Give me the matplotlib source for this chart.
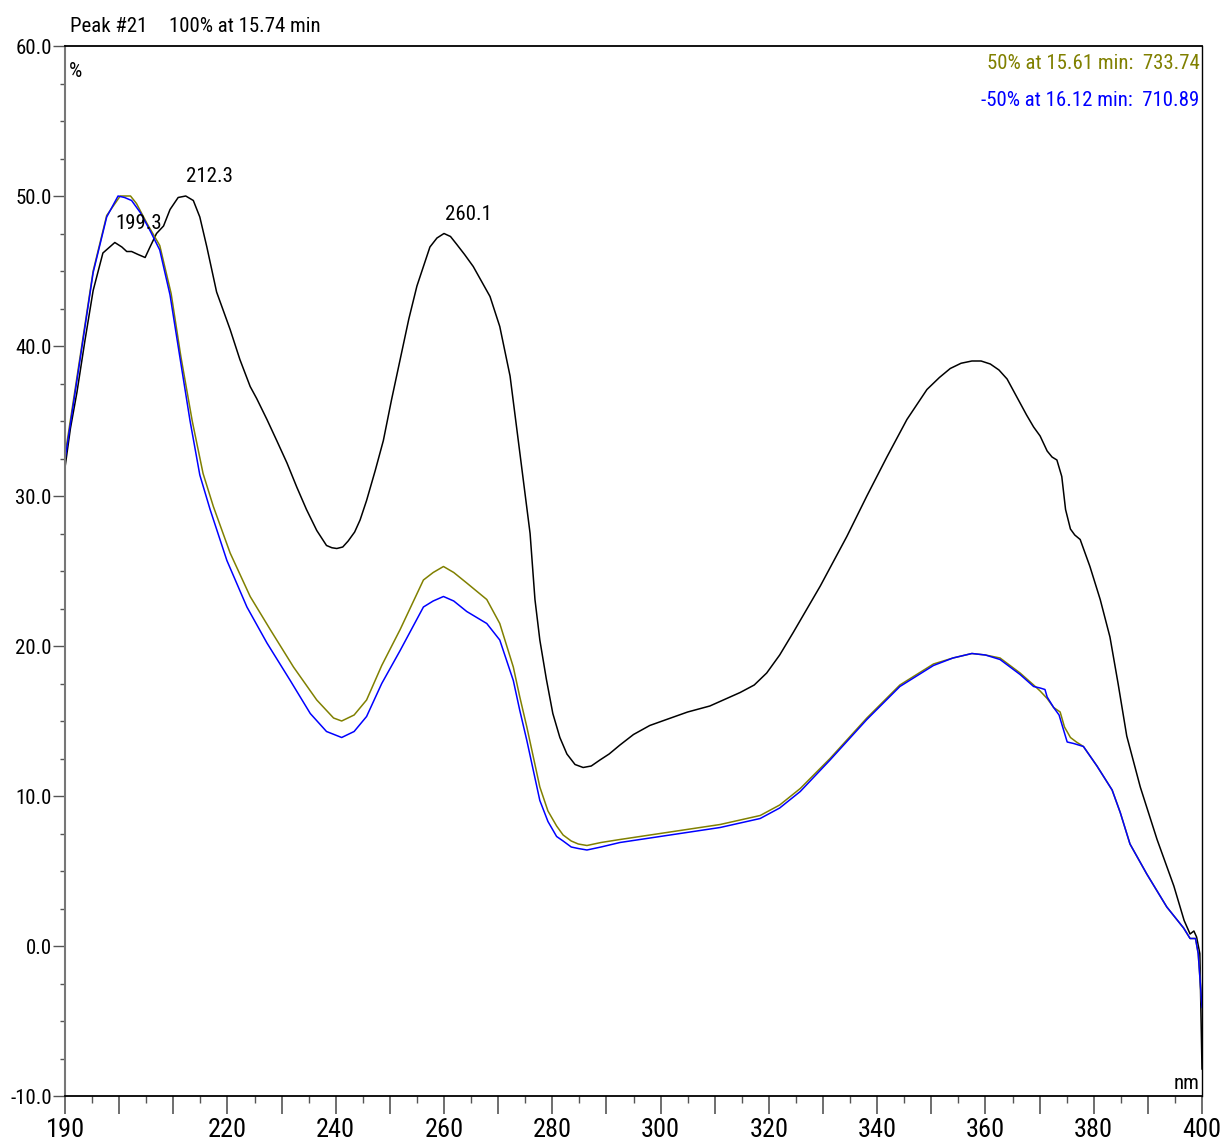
import matplotlib
matplotlib.use("Agg")
import matplotlib.pyplot as plt
import matplotlib.font_manager as fm
from matplotlib.ticker import FixedLocator, MultipleLocator, FuncFormatter

# pick a narrow font if one is installed, else a regular one a bit smaller
names = {f.name for f in fm.fontManager.ttflist}
narrow = None
for cand in ['Liberation Sans Narrow', 'Arial Narrow', 'Roboto Condensed',
             'Open Sans Condensed', 'DejaVu Sans Condensed']:
    if cand in names:
        narrow = cand
        break
cond_dejavu = any(f.name == 'DejaVu Sans' and f.stretch == 'condensed'
                  for f in fm.fontManager.ttflist)

if narrow:
    plt.rcParams['font.family'] = [narrow, 'DejaVu Sans']
    fs = 15
elif cond_dejavu:
    plt.rcParams['font.family'] = ['DejaVu Sans']
    plt.rcParams['font.stretch'] = 'condensed'
    fs = 14.5
else:
    plt.rcParams['font.family'] = ['Liberation Sans', 'DejaVu Sans']
    fs = 13
xfs = fs + 4

# 100% spectrum (black)
wl_100 = [190.0, 191.0, 192.2, 193.7, 195.2, 197.0, 199.2, 200.5, 201.4, 202.3,
          203.5, 204.8, 205.7, 206.9, 208.2, 209.4, 210.9, 212.3, 213.7, 214.9,
          216.2, 218.0, 220.5, 222.3, 224.2, 225.4, 227.3, 229.1, 231.0, 232.8,
          234.6, 236.5, 238.3, 239.3, 240.2, 241.3, 242.3, 243.5, 244.5, 245.7,
          247.3, 248.8, 250.3, 251.9, 253.5, 255.0, 257.4, 258.7, 260.0, 261.2,
          262.3, 263.8, 265.4, 268.5, 270.3, 272.2, 274.0, 275.9, 276.8, 277.7,
          278.9, 280.1, 281.4, 282.7, 284.2, 285.7, 287.2, 288.8, 290.5, 292.5,
          295.0, 298.0, 301.1, 305.0, 309.1, 314.7, 317.3, 319.6, 322.0, 324.5,
          329.5, 334.4, 338.1, 341.8, 345.5, 349.2, 351.5, 353.5, 355.5, 357.5,
          359.2, 360.9, 362.5, 364.0, 366.1, 367.6, 368.9, 370.1, 371.4, 372.3,
          373.2, 374.1, 374.8, 375.7, 376.5, 377.5, 379.3, 381.2, 383.0, 384.5,
          386.1, 388.6, 391.7, 394.8, 396.7, 397.8, 398.5, 399.0, 399.6, 400.0]
val_100 = [31.9, 34.5, 36.9, 40.4, 43.7, 46.2, 46.9, 46.6, 46.3, 46.3,
           46.1, 45.9, 46.6, 47.5, 48.0, 49.1, 49.9, 50.0, 49.7, 48.6,
           46.6, 43.6, 41.1, 39.1, 37.3, 36.5, 35.1, 33.7, 32.2, 30.6,
           29.1, 27.7, 26.7, 26.55, 26.5, 26.6, 27.0, 27.6, 28.4, 29.7,
           31.7, 33.7, 36.4, 39.1, 41.8, 44.0, 46.6, 47.2, 47.5, 47.3,
           46.8, 46.1, 45.3, 43.3, 41.3, 38.0, 32.9, 27.5, 23.1, 20.4,
           17.8, 15.5, 13.9, 12.8, 12.1, 11.9, 12.0, 12.4, 12.8, 13.4,
           14.1, 14.7, 15.1, 15.6, 16.0, 16.9, 17.4, 18.2, 19.4, 20.9,
           24.0, 27.3, 30.0, 32.6, 35.1, 37.1, 37.9, 38.5, 38.85, 39.0,
           39.0, 38.8, 38.4, 37.8, 36.4, 35.4, 34.6, 34.0, 33.0, 32.6,
           32.4, 31.3, 29.1, 27.8, 27.4, 27.1, 25.3, 23.1, 20.6, 17.5,
           14.0, 10.6, 7.1, 4.0, 1.7, 0.8, 1.0, 0.6, -0.5, -8.2]

# 50% spectrum (olive)
wl_50 = [190.0, 192.2, 195.2, 197.7, 200.2, 202.1, 203.2, 205.1, 207.5, 209.6,
         211.4, 213.5, 215.5, 217.4, 220.5, 224.2, 227.9, 232.2, 236.5, 239.6,
         241.1, 243.4, 245.7, 248.5, 251.9, 256.2, 258.0, 259.9, 261.8, 264.2,
         267.9, 270.3, 272.8, 274.0, 275.3, 277.7, 279.2, 280.8, 282.0, 283.5,
         284.8, 286.4, 289.0, 292.5, 299.9, 311.0, 318.4, 322.0, 325.8, 331.3,
         338.1, 344.2, 350.4, 354.0, 357.5, 360.0, 362.7, 366.4, 368.9, 370.1,
         371.4, 372.6, 373.8, 374.6, 375.7, 376.8, 378.1, 380.6, 383.4, 384.9,
         386.7, 389.8, 393.5, 396.6, 397.8, 398.8, 399.3, 400.0]
val_50 = [32.7, 37.9, 45.0, 48.7, 50.0, 50.0, 49.5, 48.2, 46.7, 43.5,
          39.3, 35.0, 31.5, 29.3, 26.2, 23.3, 21.1, 18.6, 16.4, 15.2,
          15.0, 15.4, 16.4, 18.7, 21.1, 24.4, 24.9, 25.3, 24.9, 24.2,
          23.1, 21.5, 18.6, 16.6, 14.6, 10.6, 9.0, 8.0, 7.4, 7.0,
          6.8, 6.7, 6.9, 7.1, 7.5, 8.1, 8.7, 9.4, 10.5, 12.5,
          15.2, 17.4, 18.8, 19.2, 19.5, 19.4, 19.2, 18.2, 17.4, 17.0,
          16.5, 15.9, 15.6, 14.6, 13.9, 13.6, 13.3, 12.0, 10.4, 8.9,
          6.8, 4.8, 2.6, 1.2, 0.5, 0.5, -0.5, -4.1]

# -50% spectrum (blue)
wl_m50 = [190.0, 192.2, 195.2, 197.7, 199.8, 201.0, 202.3, 203.9, 205.7, 207.5,
          209.4, 211.2, 213.1, 214.9, 216.8, 219.9, 223.6, 227.3, 231.6, 235.3,
          238.3, 241.1, 243.4, 245.7, 248.5, 251.9, 256.2, 258.0, 259.9, 261.8,
          264.2, 267.9, 270.3, 272.8, 274.0, 275.3, 277.7, 279.2, 280.8, 282.0,
          283.5, 284.8, 286.4, 289.0, 292.5, 299.9, 311.0, 318.4, 322.0, 325.8,
          331.3, 338.1, 344.2, 350.4, 354.0, 357.5, 360.0, 362.7, 366.4, 368.9,
          370.1, 371.0, 371.4, 372.6, 373.6, 375.1, 376.3, 378.1, 380.6, 383.4,
          384.9, 386.7, 389.8, 393.5, 396.6, 397.8, 398.8, 399.3, 400.0]
val_m50 = [32.4, 37.7, 44.9, 48.6, 50.0, 49.9, 49.7, 48.9, 47.7, 46.4,
           43.4, 39.3, 35.0, 31.4, 29.1, 25.7, 22.6, 20.2, 17.7, 15.5,
           14.3, 13.9, 14.3, 15.3, 17.5, 19.7, 22.6, 23.0, 23.3, 23.0,
           22.3, 21.5, 20.4, 17.7, 15.7, 13.7, 9.7, 8.3, 7.3, 7.0,
           6.6, 6.5, 6.4, 6.6, 6.9, 7.3, 7.9, 8.5, 9.2, 10.3,
           12.4, 15.1, 17.3, 18.7, 19.2, 19.5, 19.4, 19.1, 18.1, 17.3,
           17.2, 17.1, 16.6, 15.9, 15.4, 13.6, 13.5, 13.3, 12.0, 10.4,
           8.9, 6.8, 4.8, 2.6, 1.2, 0.5, 0.5, -0.5, -4.1]

peak_nm = [199.3, 212.3, 260.1]
peak_val = [46.9, 50.0, 47.5]

x_labels = [190] + list(range(220, 401, 20))

olive = '#808000'
blue = '#0000ff'

fig = plt.figure(figsize=(12.21, 11.47), dpi=100)
ax = fig.add_axes([65 / 1221, 1 - 1096 / 1147, 1137 / 1221, 1050 / 1147])

ax.plot(wl_100, val_100, color='black', lw=1.1)
ax.plot(wl_50, val_50, color=olive, lw=1.1)
ax.plot(wl_m50, val_m50, color=blue, lw=1.1)

for x, y in zip(peak_nm, peak_val):
    ax.annotate('%.1f' % x, (x, y), xytext=(0, 7), textcoords='offset points',
                ha='left', va='bottom', fontsize=fs)

ax.set_xlim(190, 400)
ax.set_ylim(-10, 60)

ax.xaxis.set_major_locator(FixedLocator(range(190, 401, 10)))
ax.xaxis.set_minor_locator(MultipleLocator(5))
ax.xaxis.set_major_formatter(FuncFormatter(
    lambda v, p: '%d' % round(v) if round(v) in x_labels else ''))
ax.yaxis.set_major_locator(MultipleLocator(10))
ax.yaxis.set_minor_locator(MultipleLocator(2.5))
ax.yaxis.set_major_formatter(FuncFormatter(lambda v, p: '%.1f' % v))

ax.tick_params(axis='x', which='major', direction='out', length=13, width=1.2,
               labelsize=xfs, pad=3, color='#555555')
ax.tick_params(axis='x', which='minor', direction='out', length=5, width=1.0, color='#555555')
ax.tick_params(axis='y', which='major', direction='out', length=8.5, width=1.0,
               labelsize=fs, pad=1, color='#555555')
ax.tick_params(axis='y', which='minor', direction='out', length=3.6, width=1.0, color='#555555')

ax.spines['left'].set_color('#777777')
ax.spines['left'].set_linewidth(1.5)
for s in ['top', 'bottom', 'right']:
    ax.spines[s].set_color('black')
ax.spines['top'].set_linewidth(1.3)
ax.spines['bottom'].set_linewidth(1.3)
ax.spines['right'].set_linewidth(1.0)

ax.text(0.003, 0.985, '%', transform=ax.transAxes, ha='left', va='top', fontsize=fs)
ax.text(0.998, 0.003, 'nm', transform=ax.transAxes, ha='right', va='bottom', fontsize=fs)
ax.text(0.998, 0.983, '50% at 15.61 min:  733.74', transform=ax.transAxes,
        ha='right', va='center', fontsize=fs, color=olive)
ax.text(0.998, 0.948, '-50% at 16.12 min:  710.89', transform=ax.transAxes,
        ha='right', va='center', fontsize=fs, color=blue)

fig.text(70 / 1221, 1 - 26 / 1147, 'Peak #21', ha='left', va='center', fontsize=fs)
fig.text(169 / 1221, 1 - 26 / 1147, '100% at 15.74 min', ha='left', va='center', fontsize=fs)

fig.savefig('out.png', dpi=100)
